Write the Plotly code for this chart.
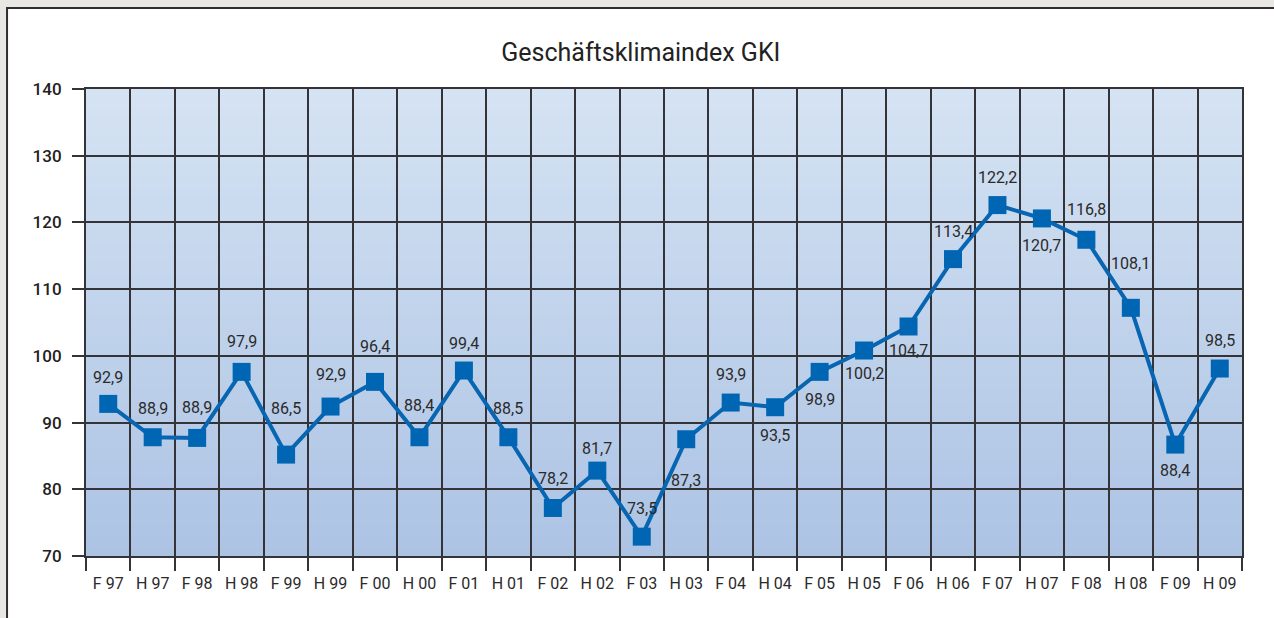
import plotly.graph_objects as go

# ---- data ----
categories = ["F 97", "H 97", "F 98", "H 98", "F 99", "H 99", "F 00", "H 00",
              "F 01", "H 01", "F 02", "H 02", "F 03", "H 03", "F 04", "H 04",
              "F 05", "H 05", "F 06", "H 06", "F 07", "H 07", "F 08", "H 08",
              "F 09", "H 09"]
values = [92.8, 87.8, 87.7, 97.6, 85.2, 92.4, 96.1, 87.8,
          97.8, 87.8, 77.2, 82.8, 72.9, 87.5, 93.0, 92.3,
          97.6, 100.8, 104.4, 114.5, 122.6, 120.6, 117.4, 107.2,
          86.7, 98.1]
labels = ["92,9", "88,9", "88,9", "97,9", "86,5", "92,9", "96,4", "88,4",
          "99,4", "88,5", "78,2", "81,7", "73,5", "87,3", "93,9", "93,5",
          "98,9", "100,2", "104,7", "113,4", "122,2", "120,7", "116,8", "108,1",
          "88,4", "98,5"]
y_ticks = [70, 80, 90, 100, 110, 120, 130, 140]

# ---- style ----
label_dy = [26, 29, 30, 30, 46, 32, 35, 32, 27, 29, 29, 22, 28, -41, 28, -28,
            -28, -23, -24, 28, 28, -27, 30, 44, -26, 28]
line_blue = "#0765b1"
grid = "#333338"
text_col = "#2a2a2a"
FONT = "Roboto, 'Open Sans', sans-serif"

fig = go.Figure()
fig.add_trace(go.Scatter(
    x=categories, y=values, mode="lines+markers",
    line=dict(color=line_blue, width=4),
    marker=dict(symbol="square", size=18, color="#0066b3"),
    hoverinfo="x+y", showlegend=False,
))

for c, v, t, dy in zip(categories, values, labels, label_dy):
    fig.add_annotation(x=c, y=v, text=t, showarrow=False, yshift=dy,
                       xanchor="center", yanchor="middle",
                       font=dict(family=FONT, size=16, color=text_col))

shapes = []
# white panel with dark border
shapes.append(dict(type="rect", xref="paper", yref="paper",
                   x0=-0.0683, x1=1.2, y0=-0.5, y1=1.1734,
                   fillcolor="white", line=dict(color="#2e2e2e", width=2),
                   layer="below"))
# vertical gradient in plot area (each band reaches the top, later bands overlay)
top = (213, 227, 243)
bot = (172, 195, 228)
lo, hi = y_ticks[0], y_ticks[-1]
n = 70
for i in range(n):
    f = (i + 0.5) / n
    col = tuple(round(bot[k] + (top[k] - bot[k]) * f) for k in range(3))
    y0 = lo + (hi - lo) * i / n
    shapes.append(dict(type="rect", xref="paper", yref="y", x0=0, x1=1,
                       y0=y0, y1=hi, fillcolor="rgb(%d,%d,%d)" % col,
                       line=dict(width=0), layer="below"))

fig.update_layout(
    width=1274, height=618,
    margin=dict(l=86, r=32, t=89, b=62),
    paper_bgcolor="#e8e7e4",
    plot_bgcolor="#c3d5ec",
    shapes=shapes,
    title=dict(text="Geschäftsklimaindex GKI", xref="container", yref="container",
               x=0.503, y=0.916, xanchor="center", yanchor="middle",
               font=dict(family=FONT, size=25, color="#222")),
    font=dict(family=FONT, color=text_col),
)
fig.update_xaxes(
    type="category", range=[-0.5, len(categories) - 0.5],
    tickson="boundaries", ticks="outside", ticklen=13, tickwidth=2, tickcolor=grid,
    showgrid=True, gridcolor=grid, gridwidth=1.6,
    showline=True, linecolor=grid, linewidth=2, mirror=True,
    tickfont=dict(family=FONT, size=16, color=text_col),
    ticklabelstandoff=12, zeroline=False,
)
fig.update_yaxes(
    range=[lo, hi], tickvals=y_ticks, ticks="outside", ticklen=12, tickwidth=2,
    tickcolor=grid, showgrid=True, gridcolor=grid, gridwidth=1.6,
    showline=True, linecolor=grid, linewidth=2, mirror=True,
    tickfont=dict(family=FONT, size=17, color="#222", weight=500),
    ticklabelstandoff=7, zeroline=False,
)

fig.write_html("out.html", config={"displayModeBar": False},
               post_script="document.body.style.margin='0';document.body.style.background='#e8e7e4';")
